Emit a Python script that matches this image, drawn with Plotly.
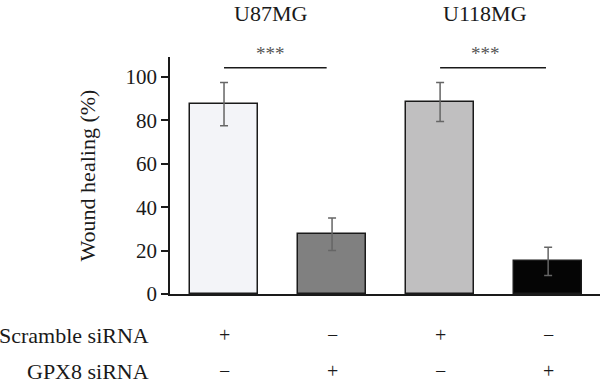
import plotly.graph_objects as go

# ---- data ----
conditions = ["U87MG scramble", "U87MG GPX8", "U118MG scramble", "U118MG GPX8"]
healing = [87.5, 27.5, 88.5, 15.0]
healing_err = [10.0, 7.5, 9.0, 6.5]
bar_colors = ["#f3f4f8", "#808080", "#c0bfc0", "#050505"]
scramble_marks = ["+", "−", "+", "−"]
gpx8_marks = ["−", "+", "−", "+"]
row_labels = ["Scramble siRNA", "GPX8 siRNA"]
group_titles = ["U87MG", "U118MG"]
group_title_x = [0.43, 2.42]
sig_x0 = [0.0, 2.0]
sig_x1 = [0.95, 2.98]
sig_y = 104.3
sig_text = "***"
y_ticks = [0, 20, 40, 60, 80, 100]

FONT = "Liberation Serif"
INK = "#1a1a1a"
xs = list(range(len(conditions)))

PLOT_L, PLOT_W, PLOT_T, PLOT_H = 170, 430, 57, 237

def py(pix):
    return (PLOT_T + PLOT_H - pix) / PLOT_H

def px(pix):
    return (pix - PLOT_L) / PLOT_W

fig = go.Figure()
fig.add_trace(go.Bar(
    x=xs, y=healing, width=0.63,
    marker=dict(color=bar_colors, line=dict(color=INK, width=1.5)),
    error_y=dict(type="data", array=healing_err, visible=True,
                 color="#666666", thickness=1.5, width=4),
    showlegend=False,
))

for x0, x1 in zip(sig_x0, sig_x1):
    fig.add_shape(type="line", xref="x", yref="y", x0=x0, x1=x1, y0=sig_y, y1=sig_y,
                  line=dict(color=INK, width=1.5))

ann = []
for tx, tt in zip(group_title_x, group_titles):
    ann.append(dict(x=tx, y=py(13), xref="x", yref="paper", text=tt, showarrow=False,
                    yanchor="middle", font=dict(family=FONT, size=22, color=INK)))
    ann.append(dict(x=tx, y=py(54), xref="x", yref="paper", text=sig_text, showarrow=False,
                    yanchor="middle", font=dict(family=FONT, size=19, color="#555555")))
row_y = [335, 371]
for x, s, g in zip(xs, scramble_marks, gpx8_marks):
    ann.append(dict(x=x, y=py(row_y[0]), xref="x", yref="paper", text=s, showarrow=False,
                    yanchor="middle", font=dict(family=FONT, size=20, color=INK)))
    ann.append(dict(x=x, y=py(row_y[1]), xref="x", yref="paper", text=g, showarrow=False,
                    yanchor="middle", font=dict(family=FONT, size=20, color=INK)))
for lbl, yy in zip(row_labels, row_y):
    ann.append(dict(x=px(151), y=py(yy), xref="paper", yref="paper", text=lbl, showarrow=False,
                    xanchor="right", yanchor="middle",
                    font=dict(family=FONT, size=22, color=INK)))

fig.update_layout(
    width=600, height=385,
    margin=dict(l=PLOT_L, r=600 - PLOT_L - PLOT_W, t=PLOT_T, b=385 - PLOT_T - PLOT_H,
                autoexpand=False),
    paper_bgcolor="white", plot_bgcolor="white",
    annotations=ann,
    bargap=0,
    xaxis=dict(range=[-0.5, 3.48], showticklabels=False, ticks="", showgrid=False,
               zeroline=False, showline=True, linecolor=INK, linewidth=1.5,
               automargin=False),
    yaxis=dict(range=[0, 109.2], tickvals=y_ticks, ticks="outside", ticklen=7,
               tickwidth=1.5, tickcolor=INK, showgrid=False, zeroline=False,
               showline=True, linecolor=INK, linewidth=1.5, automargin=False,
               tickfont=dict(family=FONT, size=21, color=INK),
               title=dict(text="Wound healing (%)", standoff=24,
                          font=dict(family=FONT, size=22, color=INK))),
)

fig.write_html("out.html", config={"displayModeBar": False},
               post_script="document.body.style.margin='0';document.body.style.overflow='hidden';")
